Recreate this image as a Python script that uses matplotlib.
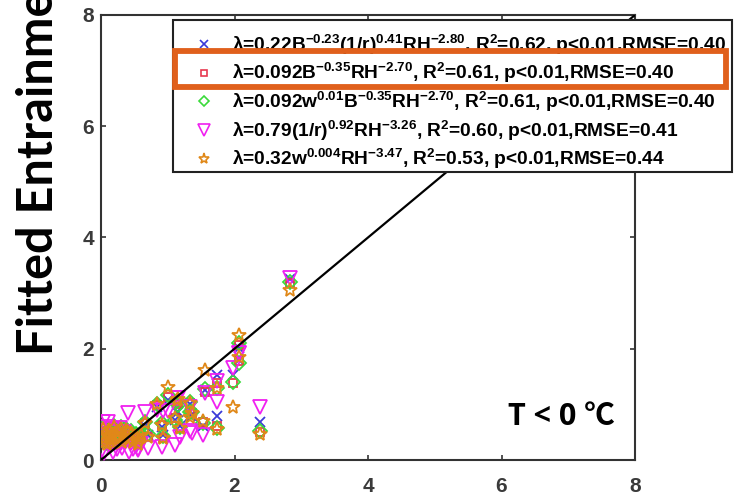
import matplotlib
matplotlib.use('Agg')
import matplotlib.pyplot as plt
from matplotlib.patches import Rectangle
from matplotlib.lines import Line2D
from matplotlib.font_manager import FontProperties

plt.rcParams['mathtext.fontset'] = 'custom'
plt.rcParams['mathtext.default'] = 'regular'

# observed entrainment rate (x) and fitted values for the five schemes
obs = [2.83, 2.38, 2.06, 2.06, 1.98, 1.74, 1.74, 1.56, 1.53, 1.33, 1.33,
       1.18, 1.16, 1.00, 0.84, 1.14, 1.36, 1.11, 0.91, 0.70, 0.93, 0.66,
       0.40, 0.55,
       0.02, 0.03, 0.05, 0.07, 0.09, 0.10, 0.12, 0.14, 0.16, 0.18, 0.20,
       0.22, 0.24, 0.26, 0.28, 0.30, 0.32, 0.35, 0.38, 0.42, 0.45, 0.48,
       0.52, 0.56, 0.60]
fit_B_r_RH = [3.25, 0.68, 2.02, 1.80, 1.52, 1.53, 0.80, 1.25, 0.62, 0.80, 1.00,
              0.62, 0.86, 1.08, 0.95, 0.86, 0.80, 0.72, 0.60, 0.45, 0.45, 0.62,
              0.50, 0.35,
              0.40, 0.55, 0.35, 0.48, 0.30, 0.42, 0.52, 0.38, 0.46, 0.33, 0.58,
              0.44, 0.36, 0.50, 0.42, 0.55, 0.34, 0.46, 0.52, 0.40, 0.48, 0.35,
              0.45, 0.30, 0.42]
fit_B_RH = [3.18, 0.50, 2.07, 1.78, 1.38, 1.38, 0.62, 1.22, 0.68, 0.84, 1.03,
            0.58, 1.00, 1.14, 0.99, 1.04, 0.84, 0.75, 0.63, 0.42, 0.40, 0.66,
            0.48, 0.38,
            0.42, 0.58, 0.33, 0.50, 0.28, 0.45, 0.55, 0.36, 0.48, 0.32, 0.60,
            0.42, 0.38, 0.52, 0.40, 0.57, 0.35, 0.45, 0.55, 0.38, 0.50, 0.34,
            0.44, 0.30, 0.44]
fit_w_B_RH = [3.20, 0.52, 2.10, 1.75, 1.40, 1.30, 0.58, 1.28, 0.66, 0.86, 1.05,
              0.60, 0.98, 1.16, 1.01, 1.06, 0.86, 0.72, 0.66, 0.46, 0.43, 0.68,
              0.50, 0.40,
              0.44, 0.60, 0.35, 0.50, 0.30, 0.46, 0.56, 0.38, 0.50, 0.34, 0.62,
              0.44, 0.40, 0.54, 0.42, 0.60, 0.37, 0.48, 0.56, 0.40, 0.52, 0.36,
              0.46, 0.32, 0.46]
fit_r_RH = [3.27, 0.95, 1.92, 1.93, 1.65, 1.42, 1.04, 1.20, 0.45, 0.52, 0.95,
            0.42, 1.11, 0.88, 0.90, 1.11, 0.48, 0.27, 0.24, 0.22, 0.88, 0.86,
            0.84, 0.18,
            0.18, 0.68, 0.12, 0.60, 0.45, 0.68, 0.35, 0.25, 0.55, 0.15, 0.50,
            0.30, 0.20, 0.40, 0.58, 0.30, 0.22, 0.50, 0.35, 0.15, 0.30, 0.20,
            0.25, 0.20, 0.28]
fit_w_RH = [3.05, 0.47, 2.25, 1.85, 0.95, 1.30, 0.55, 1.62, 0.70, 0.78, 1.03,
            0.58, 1.10, 1.32, 1.00, 1.08, 0.84, 0.75, 0.63, 0.42, 0.40, 0.66,
            0.50, 0.36,
            0.40, 0.56, 0.32, 0.48, 0.28, 0.44, 0.54, 0.36, 0.47, 0.31, 0.60,
            0.42, 0.37, 0.51, 0.40, 0.56, 0.33, 0.44, 0.54, 0.38, 0.49, 0.33,
            0.43, 0.29, 0.45]

labels = [
    'λ=0.22B$^{-0.23}$(1/r)$^{0.41}$RH$^{-2.80}$, R$^{2}$=0.62, p<0.01,RMSE=0.40',
    'λ=0.092B$^{-0.35}$RH$^{-2.70}$, R$^{2}$=0.61, p<0.01,RMSE=0.40',
    'λ=0.092w$^{0.01}$B$^{-0.35}$RH$^{-2.70}$, R$^{2}$=0.61, p<0.01,RMSE=0.40',
    'λ=0.79(1/r)$^{0.92}$RH$^{-3.26}$, R$^{2}$=0.60, p<0.01,RMSE=0.41',
    'λ=0.32w$^{0.004}$RH$^{-3.47}$, R$^{2}$=0.53, p<0.01,RMSE=0.44',
]
series = [fit_B_r_RH, fit_B_RH, fit_w_B_RH, fit_r_RH, fit_w_RH]
markers = ['x', 's', 'D', 'v', '*']
colors = ['#3a3ad8', '#e8384f', '#3ada3a', '#f020f0', '#e08818']
msizes = [7, 6, 7, 10, 10]

fig = plt.figure(figsize=(7.4, 4.96), dpi=100)
ax = fig.add_axes([101/740, 1-460/496, 534/740, 445/496])

for i, (ys, m, c, ms) in enumerate(zip(series, markers, colors, msizes)):
    ax.plot(obs, ys, linestyle='none', marker=m, markersize=ms,
            markerfacecolor='none', markeredgecolor=c, markeredgewidth=1.3,
            zorder=2+i)
ax.plot([0, 8], [0, 8], color='black', lw=1.6, zorder=10)

ax.set_xlim(0, 8)
ax.set_ylim(0, 8)
ax.set_xticks([0, 2, 4, 6, 8])
ax.set_yticks([0, 2, 4, 6, 8])
for s in ax.spines.values():
    s.set_color('#333333')
    s.set_linewidth(1.5)
ax.tick_params(direction='in', length=3.5, width=1.2, color='#333333',
               top=True, right=True, labelsize=15, labelcolor='#3a3a3a')
ax.tick_params(axis='x', pad=12)
ax.tick_params(axis='y', pad=5)
for lab in ax.get_xticklabels() + ax.get_yticklabels():
    lab.set_fontfamily('Liberation Sans')
    lab.set_fontweight('bold')

# legend box drawn at the reference position
ax.add_patch(Rectangle((173/740, 1-172/496), (732-173)/740, 152/496,
                       transform=fig.transFigure, facecolor='white',
                       edgecolor='#222222', lw=1.5, zorder=19, clip_on=False))

handles = [Line2D([], [], linestyle='none', marker=m, markersize=ms*0.8,
                  markerfacecolor='none', markeredgecolor=c, markeredgewidth=1.2)
           for m, c, ms in zip(markers, colors, msizes)]
leg = ax.legend(handles, labels, loc='upper left',
                bbox_to_anchor=(173/740, 1-21/496), bbox_transform=fig.transFigure,
                borderaxespad=0, frameon=False,
                prop=FontProperties(family='Liberation Sans', weight='bold', size=13.8),
                handlelength=2, handletextpad=0.5, borderpad=0.6, labelspacing=0.24)
leg.set_zorder(20)

fig.add_artist(Rectangle((175/740, 1-86.5/496), (725.5-175)/740, 35.5/496,
                         transform=fig.transFigure, fill=False,
                         edgecolor='#E0601C', lw=4.2, zorder=30))

fig.text(39/740, 1-355/496, 'Fitted Entrainment Rate', rotation=90,
         ha='center', va='bottom', fontsize=35, fontweight='bold', family='Lato')
fig.text(615/740, 1-425/496, 'T < 0 ℃', ha='right', va='baseline',
         fontsize=22, fontweight='bold', family=['Open Sans', 'Noto Sans CJK SC'])

fig.savefig('out.png', dpi=100)
